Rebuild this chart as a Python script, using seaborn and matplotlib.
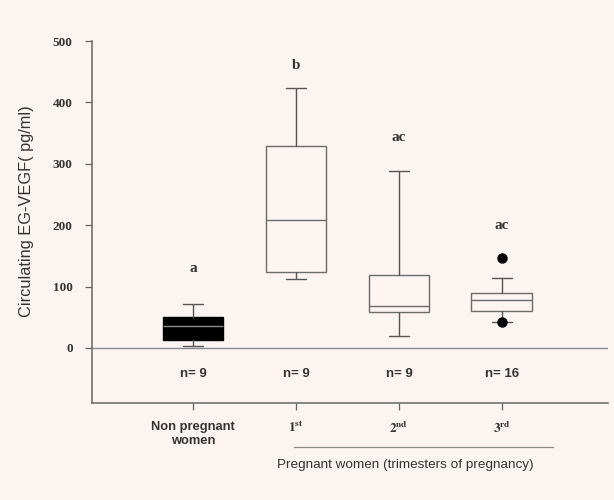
import matplotlib
matplotlib.use("Agg")
import matplotlib.pyplot as plt
import seaborn as sns

# ---- data ----
groups = ["Non pregnant\nwomen", r"$\mathbf{1^{st}}$", r"$\mathbf{2^{nd}}$", r"$\mathbf{3^{rd}}$"]
whisker_low = [3, 112, 20, 42]
q1 = [13, 124, 59, 60]
medians = [36, 208, 68, 78]
q3 = [50, 329, 119, 90]
whisker_high = [72, 423, 288, 114]
outliers = [[], [], [], [147, 42]]
sig_letters = ["a", "b", "ac", "ac"]
letter_y = [130, 460, 343, 199]
n_labels = ["n= 9", "n= 9", "n= 9", "n= 16"]
y_ticks = [0, 100, 200, 300, 400, 500]

bg = "#FBF4F1"
sns.set_theme(style="ticks")
plt.rcParams["font.family"] = ["Liberation Sans", "DejaVu Sans"]
plt.rcParams["mathtext.fontset"] = "stix"

fig = plt.figure(figsize=(6.14, 5.0), dpi=100, facecolor=bg)
ax = fig.add_axes([0.150, 0.194, 0.840, 0.724])
ax.set_facecolor(bg)

positions = list(range(len(groups)))
stats = []
for i in positions:
    stats.append(dict(med=medians[i], q1=q1[i], q3=q3[i],
                      whislo=whisker_low[i], whishi=whisker_high[i],
                      fliers=outliers[i], label=groups[i]))

edge = "#6b6b6b"
box = ax.bxp(stats, positions=positions, widths=0.59, patch_artist=True,
             capwidths=0.2, manage_ticks=False,
             boxprops=dict(edgecolor=edge, linewidth=1.0, facecolor=bg),
             whiskerprops=dict(color="#555555", linewidth=1.0),
             capprops=dict(color="#555555", linewidth=1.0),
             medianprops=dict(color=edge, linewidth=1.0),
             flierprops=dict(marker="o", markerfacecolor="black",
                             markeredgecolor="black", markersize=6.5))
# first group drawn filled black
box["boxes"][0].set_facecolor("black")
box["boxes"][0].set_edgecolor("black")
box["medians"][0].set_color("#8a8a8a")

ax.axhline(0, color="#8a8a8a", linewidth=1.0, zorder=0)

ax.set_xlim(-0.98, 4.03)
ax.set_ylim(-89.6, 500)
ax.set_yticks(y_ticks)
ax.set_yticklabels([str(v) for v in y_ticks], family="Liberation Serif",
                   fontweight="bold", fontsize=9.5, color="#333333")
ax.set_xticks(positions)
ax.set_xticklabels(groups, fontweight="bold", fontsize=9.3, color="#333333")
for lbl in ax.get_xticklabels()[1:]:
    lbl.set_fontsize(9.5)
ax.tick_params(axis="both", direction="out", length=5, width=0.9, color="#666666")
ax.tick_params(axis="x", pad=8)
ax.tick_params(axis="y", pad=9)

sns.despine(ax=ax)
for s in ["left", "bottom"]:
    ax.spines[s].set_color("#666666")
    ax.spines[s].set_linewidth(1.1)
ax.spines["left"].set_bounds(-89.6, 500)

ax.set_ylabel("Circulating EG-VEGF( pg/ml)", fontsize=11.8, color="#333333")
ax.yaxis.set_label_coords(-0.112, 0.53)

for i in positions:
    ax.text(i, letter_y[i], sig_letters[i], ha="center", va="center",
            family="Liberation Serif", fontweight="bold", fontsize=11, color="#333333")
    ax.text(i, -42, n_labels[i], ha="center", va="center",
            fontweight="bold", fontsize=9.5, color="#333333")

# group bracket under the pregnant trimesters
fig.add_artist(plt.Line2D([294 / 614, 553 / 614], [1 - 447 / 500, 1 - 447 / 500],
                          color="#8a8a8a", linewidth=0.9))
fig.text(405 / 614, 1 - 465 / 500, "Pregnant women (trimesters of pregnancy)",
         ha="center", va="center", fontsize=9.7, color="#333333")

fig.savefig("out.png", dpi=100, facecolor=bg)
